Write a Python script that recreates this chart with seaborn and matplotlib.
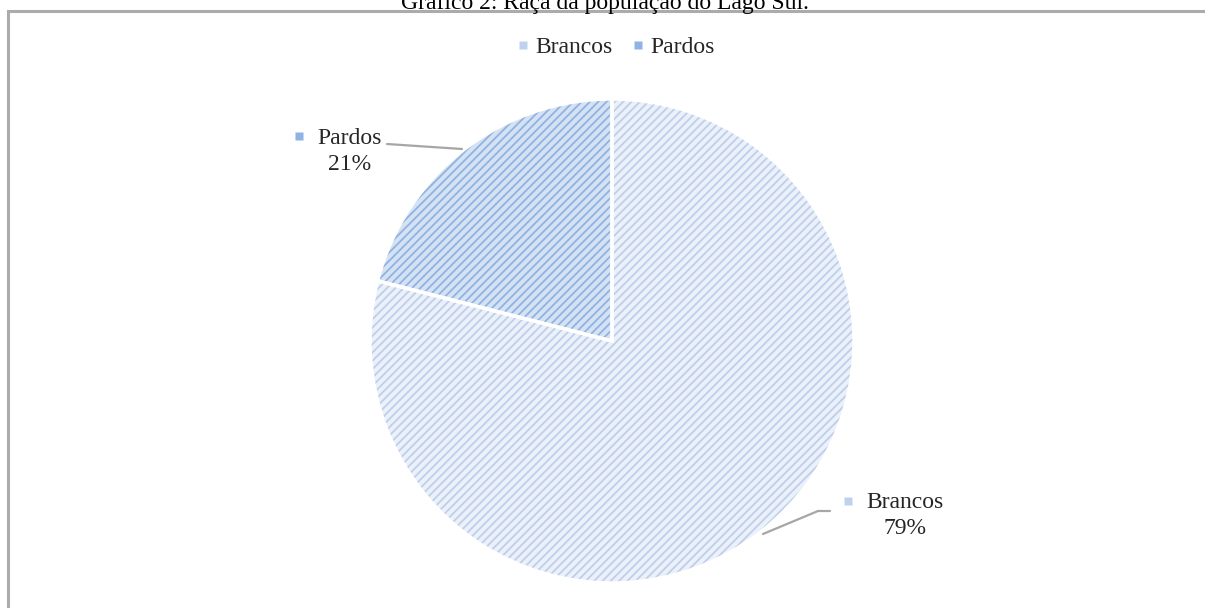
import matplotlib
matplotlib.use("Agg")
import matplotlib.pyplot as plt
import seaborn as sns
from matplotlib.lines import Line2D

categories = ["Brancos", "Pardos"]
values = [79, 21]
pct_labels = ["79%", "21%"]
title = "Gráfico 2: Raça da população do Lago Sul."

fill_colors = ["#ecf1f9", "#d5e2f4"]
hatch_colors = ["#bccfec", "#8fb3e2"]
marker_colors = ["#bed2ee", "#8fb3e2"]

sns.set_theme(style="white")
plt.rcParams["font.family"] = ["Liberation Serif", "DejaVu Serif"]
plt.rcParams["hatch.linewidth"] = 1.3

W, H = 1205, 608
fig = plt.figure(figsize=(W / 100, H / 100), dpi=100)
fig.patch.set_facecolor("white")

# frame
frame_ax = fig.add_axes([0, 0, 1, 1])
frame_ax.set_xlim(0, W)
frame_ax.set_ylim(H, 0)
frame_ax.axis("off")
frame_ax.plot([8, 8, W + 5], [H + 5, 10.5, 10.5], color="#ababab", lw=2.2,
              solid_capstyle="butt", solid_joinstyle="miter")
frame_ax.text(605, 9, title, ha="center", va="baseline", fontsize=17, color="black")

# pie
cx, cy, R = 612, 341, 242
ax = fig.add_axes([(cx - R) / W, (H - cy - R) / H, 2 * R / W, 2 * R / H])

w1, _ = ax.pie(values, colors=fill_colors, startangle=90, counterclock=False,
               radius=1, wedgeprops=dict(linewidth=0))
w2, _ = ax.pie(values, colors=["none", "none"], startangle=90, counterclock=False,
               radius=1, wedgeprops=dict(linewidth=0))
for w, hc in zip(w2, hatch_colors):
    w.set_facecolor("none")
    w.set_edgecolor(hc)
    w.set_hatch("////")
    w.set_linewidth(0)
ax.pie(values, colors=["none", "none"], startangle=90, counterclock=False,
       radius=1, wedgeprops=dict(linewidth=2.5, edgecolor="white", fill=False))
ax.set_xlim(-1, 1)
ax.set_ylim(-1, 1)
ax.set_aspect("equal")
ax.axis("off")


def d(px, py):
    return ((px - cx) / R, (cy - py) / R)


# data labels
lab_specs = [
    (d(905, 503), d(905, 529), d(848, 501), [d(763, 534), d(818, 511), d(830, 511)]),
    (d(350, 138), d(350, 164), d(299, 136), [d(462, 149), d(387, 144)]),
]
for i, (np_, pp, mp, line) in enumerate(lab_specs):
    ax.text(*np_, categories[i], ha="center", va="center", fontsize=17, clip_on=False)
    ax.text(*pp, pct_labels[i], ha="center", va="center", fontsize=17, clip_on=False)
    ax.plot(*mp, marker="s", ms=5.5, color=marker_colors[i], mec="none", clip_on=False)
    xs = [p[0] for p in line]
    ys = [p[1] for p in line]
    ax.plot(xs, ys, color="#a6a6a6", lw=1.6, clip_on=False)

# legend
handles = [Line2D([], [], marker="s", ls="none", ms=6, color=c, mec="none")
           for c in marker_colors]
fig.legend(handles, categories, loc="center", bbox_to_anchor=(616 / W, 1 - 47 / H),
           ncol=2, frameon=False, fontsize=17, handletextpad=0.25, columnspacing=0.85,
           handlelength=0.5, borderpad=0.0)

fig.savefig("out.png", dpi=100, facecolor="white")
